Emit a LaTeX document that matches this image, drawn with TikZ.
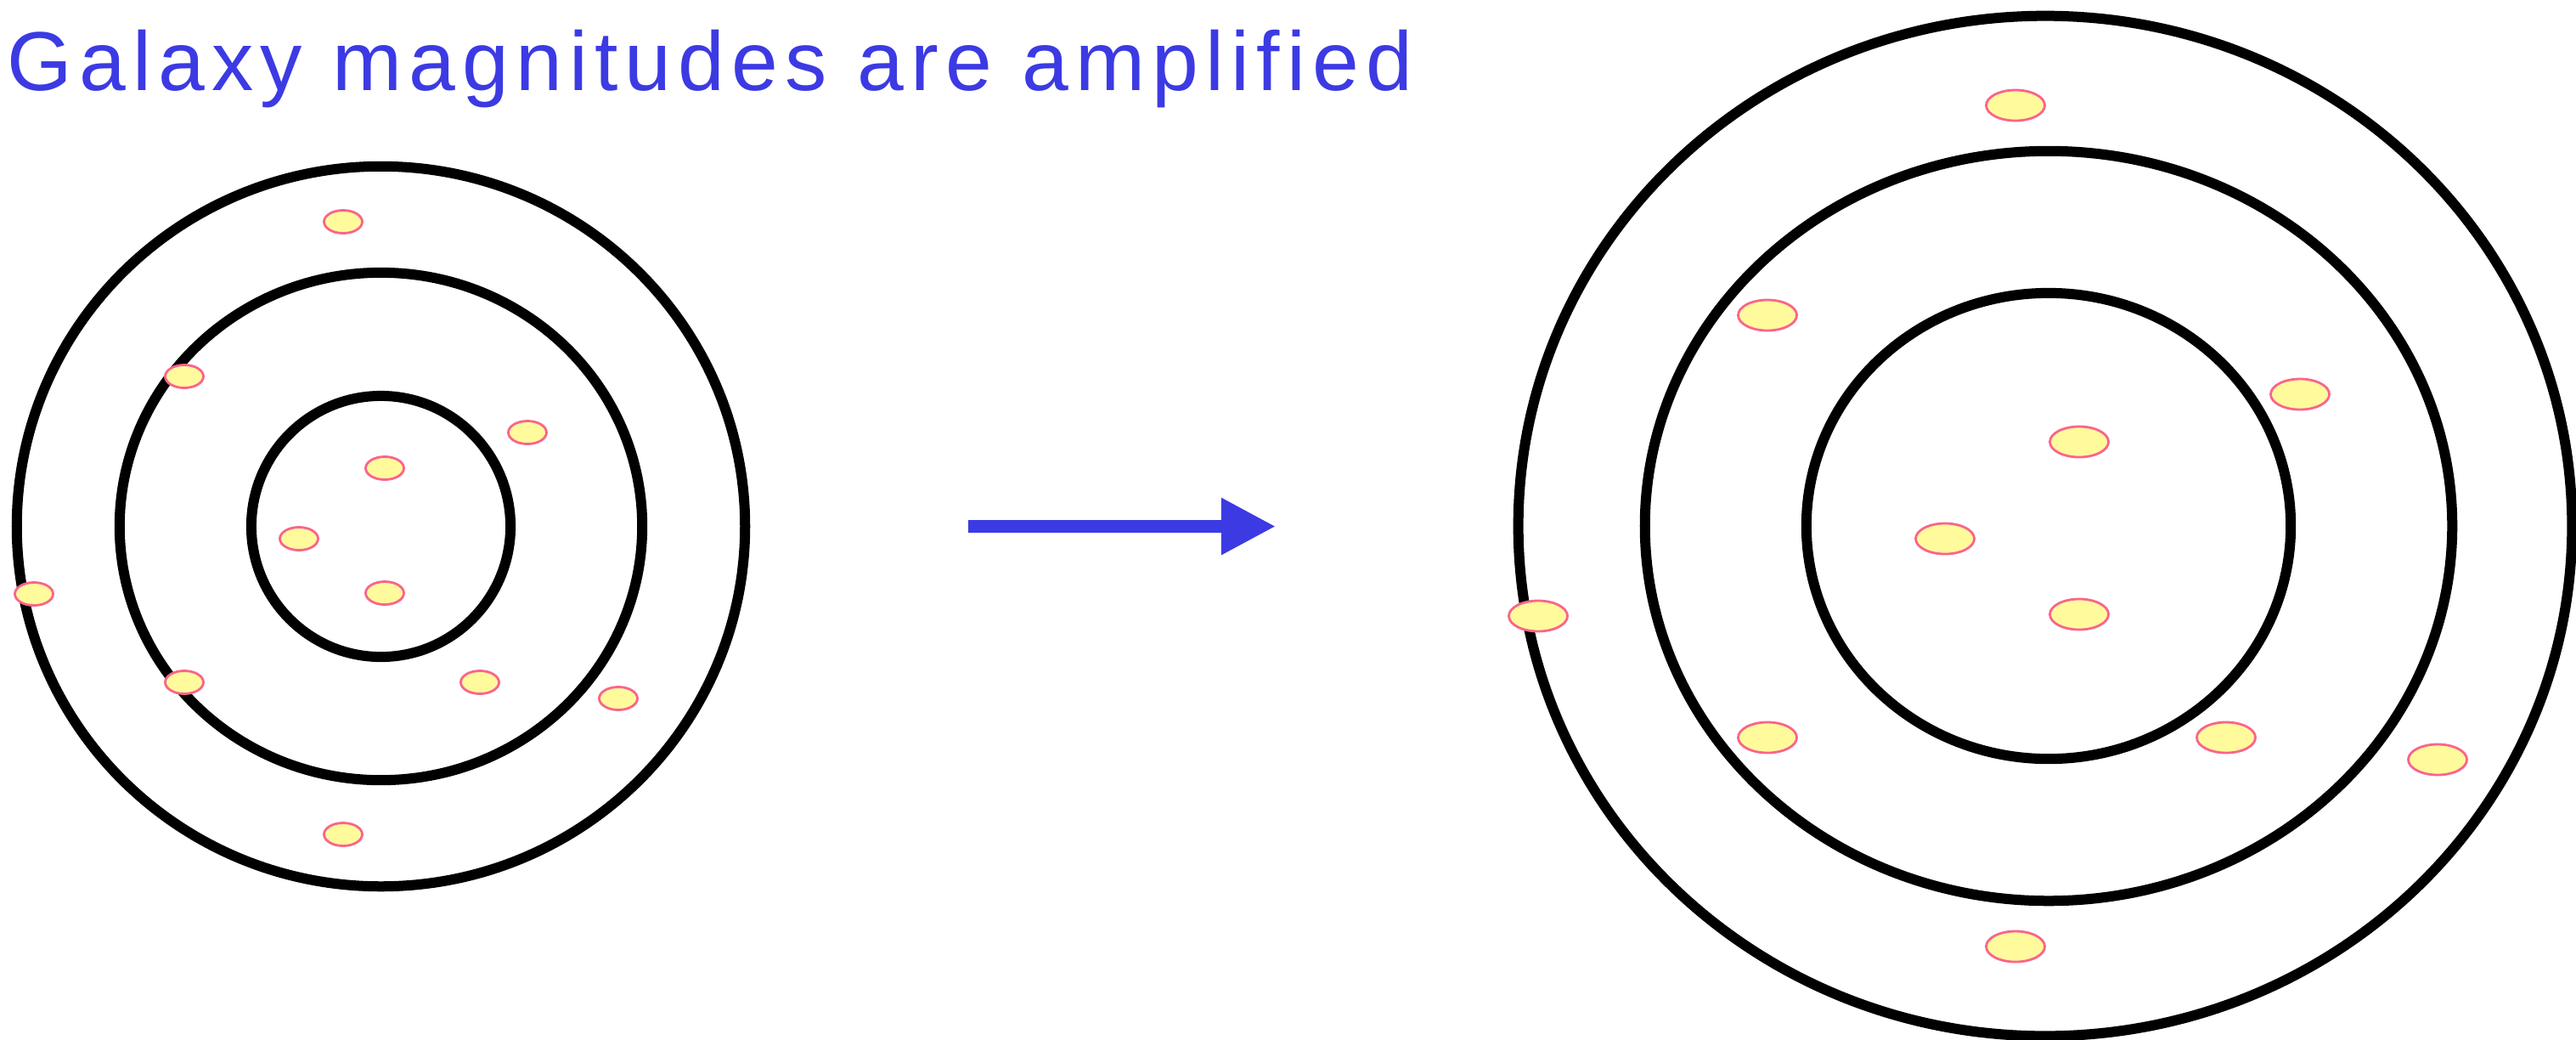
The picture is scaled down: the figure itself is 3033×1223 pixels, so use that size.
\documentclass[tikz,border=0pt]{standalone}
\usepackage{fontspec}
\setmainfont{Liberation Sans}
\newfontfamily\titlefont[LetterSpace=8.3]{Liberation Sans}
\usetikzlibrary{shapes.geometric,arrows.meta}
\definecolor{titleblue}{RGB}{60,58,227}
\definecolor{galfill}{RGB}{255,250,155}
\definecolor{galedge}{RGB}{250,100,140}
\tikzset{
  ring/.style={ellipse, draw=black, line width=0.12cm, inner sep=0pt, outer sep=0pt},
  galaxy/.style={ellipse, draw=galedge, fill=galfill, line width=0.028cm, inner sep=0pt, outer sep=0pt},
  smallgal/.style={galaxy, minimum width=0.45cm, minimum height=0.27cm},
  biggal/.style={galaxy, minimum width=0.69cm, minimum height=0.36cm},
  bigarrow/.style={draw=titleblue, line width=0.15cm, -{Triangle[length=0.64cm, width=0.63cm]}}
}
\begin{document}
\begin{tikzpicture}[x=0.01cm, y=-0.01cm]
\useasboundingbox (0,0) rectangle (3033,1223);
% title
\node[anchor=base west, inner sep=0pt, text=titleblue, font=\titlefont\fontsize{28pt}{33pt}\selectfont] (title) at (8,106) {Galaxy magnitudes are amplified};
% left rings
\node[ring, minimum width=8.57cm, minimum height=8.47cm] (Louter) at (448.5,619.5) {};
\node[ring, minimum width=6.15cm, minimum height=5.97cm] (Lmiddle) at (448.5,619.5) {};
\node[ring, minimum width=3.05cm, minimum height=3.07cm] (Linner) at (448.5,619.5) {};
% right rings
\node[ring, minimum width=12.40cm, minimum height=12.00cm] (Router) at (2408,619) {};
\node[ring, minimum width=9.50cm, minimum height=8.82cm] (Rmiddle) at (2412,619) {};
\node[ring, minimum width=5.70cm, minimum height=5.48cm] (Rinner) at (2412,619) {};
% left galaxies
\node[smallgal] (l1) at (404,261) {};
\node[smallgal] (l2) at (217,443) {};
\node[smallgal] (l3) at (621,509) {};
\node[smallgal] (l4) at (453,551) {};
\node[smallgal] (l5) at (352,634) {};
\node[smallgal] (l6) at (453,698) {};
\node[smallgal] (l7) at (40,699) {};
\node[smallgal] (l8) at (217,803) {};
\node[smallgal] (l9) at (565,803) {};
\node[smallgal] (l10) at (728,822) {};
\node[smallgal] (l11) at (404,982) {};
% right galaxies
\node[biggal] (r1) at (2373,124) {};
\node[biggal] (r2) at (2081,371) {};
\node[biggal] (r3) at (2708,464) {};
\node[biggal] (r4) at (2448,520) {};
\node[biggal] (r5) at (2290,634) {};
\node[biggal] (r6) at (2448,723) {};
\node[biggal] (r7) at (1811,725) {};
\node[biggal] (r8) at (2081,868) {};
\node[biggal] (r9) at (2621,868) {};
\node[biggal] (r10) at (2870,894) {};
\node[biggal] (r11) at (2373,1114) {};
% arrow
\coordinate (astart) at (1140,619.5);
\coordinate (aend) at (1502,619.5);
\draw[bigarrow] (astart) -- (aend);
\end{tikzpicture}
\end{document}
